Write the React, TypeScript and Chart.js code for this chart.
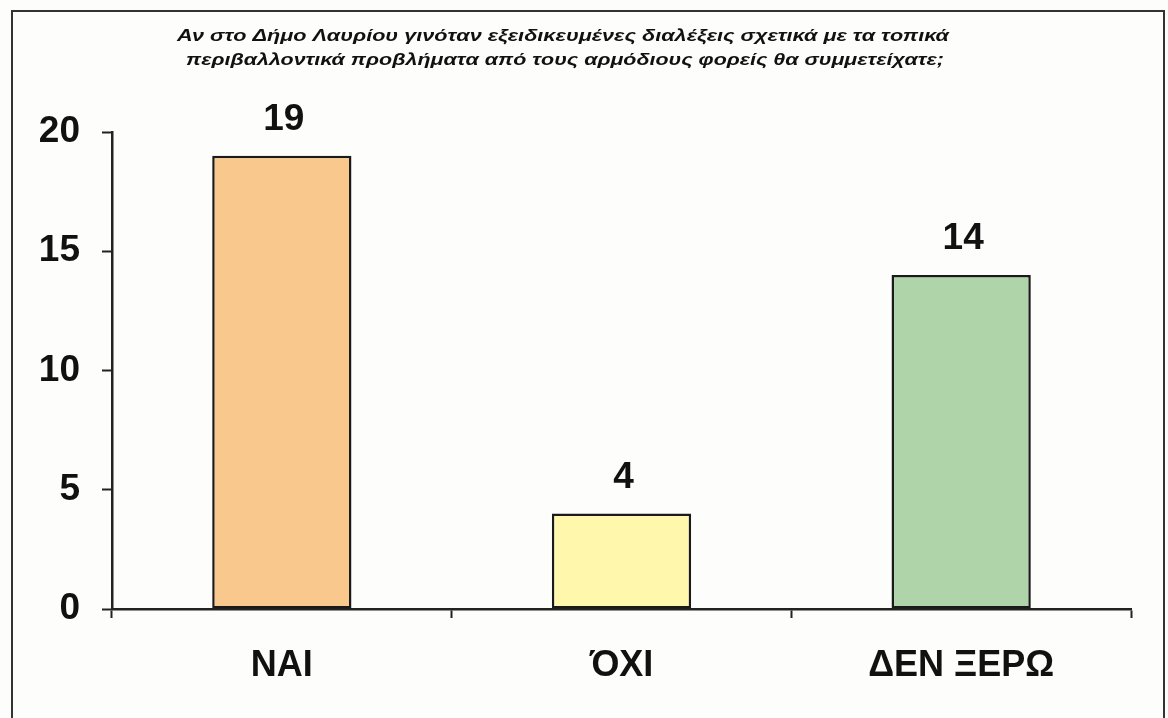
import React, { useEffect, useRef } from "react";
import { Chart, registerables } from "chart.js";

Chart.register(...registerables);

const categories = ["ΝΑΙ", "ΌΧΙ", "ΔΕΝ ΞΕΡΩ"];
const values = [19, 4, 14];
const barColors = ["#F9C88C", "#FFF8AC", "#AFD4AA"];
const titleLines = [
  "Αν στο Δήμο Λαυρίου γινόταν εξειδικευμένες διαλέξεις σχετικά με τα τοπικά",
  "περιβαλλοντικά προβλήματα από τους αρμόδιους φορείς θα συμμετείχατε;",
];
const yTicks = [0, 5, 10, 15, 20];

const FONT = "'Liberation Sans', Arial, sans-serif";

export default function App() {
  const ref = useRef<HTMLCanvasElement | null>(null);
  useEffect(() => {
    if (!ref.current) return;
    const overlay = {
      id: "overlay",
      afterDatasetsDraw(chart: any) {
        const ctx = chart.ctx;
        ctx.save();
        ctx.fillStyle = "#111";
        ctx.textAlign = "center";
        ctx.font = `italic bold 17px ${FONT}`;
        ctx.textBaseline = "alphabetic";
        const lineSpec = [
          { cx: 563, w: 772, y: 41 },
          { cx: 565, w: 758, y: 65 },
        ];
        titleLines.forEach((t, i) => {
          const m = ctx.measureText(t).width;
          const sx = lineSpec[i].w / m;
          ctx.save();
          ctx.translate(lineSpec[i].cx, lineSpec[i].y);
          ctx.scale(sx, 1);
          ctx.fillText(t, 0, 0);
          ctx.restore();
        });
        const meta = chart.getDatasetMeta(0);
        ctx.font = `bold 37px ${FONT}`;
        meta.data.forEach((el: any, i: number) => {
          ctx.fillText(String(values[i]), el.x + 2, el.y - 26);
        });
        ctx.restore();
      },
    };
    const chart = new Chart(ref.current, {
      type: "bar",
      data: {
        labels: categories,
        datasets: [
          {
            data: values,
            backgroundColor: barColors,
            borderColor: "#1a1a1a",
            borderWidth: 2.5,
            borderSkipped: false,
            categoryPercentage: 1,
            barPercentage: 0.41,
          },
        ],
      },
      options: {
        animation: false,
        responsive: true,
        maintainAspectRatio: false,
        layout: { padding: { top: 132, right: 37, left: 0, bottom: 0 } },
        plugins: { legend: { display: false }, tooltip: { enabled: false } },
        scales: {
          x: {
            offset: true,
            grid: {
              offset: true,
              drawOnChartArea: false,
              drawTicks: true,
              tickLength: 9,
              tickWidth: 2,
              tickColor: "#222",
            },
            border: { color: "#222", width: 2.5 },
            ticks: {
              color: "#111",
              font: { family: FONT, size: 36, weight: "bold" },
              padding: 26,
            },
            afterFit(scale: any) {
              scale.height = 109;
            },
          },
          y: {
            min: 0,
            max: 20,
            afterBuildTicks(scale: any) {
              scale.ticks = yTicks.map((v) => ({ value: v }));
            },
            grid: {
              drawOnChartArea: false,
              drawTicks: true,
              tickLength: 10,
              tickWidth: 2,
              tickColor: "#222",
            },
            border: { color: "#222", width: 2.5 },
            ticks: {
              color: "#111",
              font: { family: FONT, size: 37, weight: "bold" },
              padding: 22,
            },
            afterFit(scale: any) {
              scale.width = 112;
            },
          },
        },
      },
      plugins: [overlay],
    });
    return () => chart.destroy();
  }, []);
  return (
    <div
      style={{
        position: "fixed",
        left: 0,
        top: 0,
        width: 1168,
        height: 718,
        background: "#FDFDFB",
      }}
    >
      <div
        style={{
          position: "absolute",
          left: 11,
          top: 10,
          width: 1154,
          height: 720,
          border: "2px solid #333",
          boxSizing: "border-box",
        }}
      />
      <div style={{ position: "absolute", left: 0, top: 0, width: 1168, height: 718 }}>
        <canvas ref={ref} />
      </div>
    </div>
  );
}
